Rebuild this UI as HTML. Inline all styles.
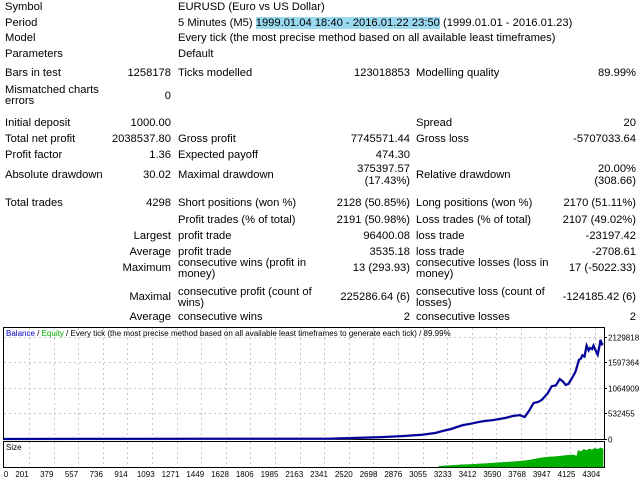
<!DOCTYPE html>
<html><head><meta charset="utf-8">
<style>
html,body{margin:0;padding:0;background:#fff;}
body{width:640px;height:480px;position:relative;overflow:hidden;font-family:"Liberation Sans","DejaVu Sans",sans-serif;font-size:11.2px;color:#000;}
.t{position:absolute;line-height:12px;white-space:nowrap;}
.r{text-align:right;}
.hl{background:#9ad9f0;}
svg{position:absolute;left:0;top:0;}
svg text{font-family:"Liberation Sans","DejaVu Sans",sans-serif;}
</style></head>
<body>
<div id="rep"></div>
<svg id="chart" width="640" height="480"></svg>
<script>
var L1=5, R1=171, L2=178, R2=410, L3=416, R3=636;
var cells=[
 [1,L1,'Symbol','l'],[1,L2,'EURUSD (Euro vs US Dollar)','l'],
 [17,L1,'Period','l'],
 [32,L1,'Model','l'],[32,L2,'Every tick (the most precise method based on all available least timeframes)','l'],
 [48,L1,'Parameters','l'],[48,L2,'Default','l'],
 [67,L1,'Bars in test','l'],[67,R1,'1258178','r'],[67,L2,'Ticks modelled','l'],[67,R2,'123018853','r'],[67,L3,'Modelling quality','l'],[67,R3,'89.99%','r'],
 [84,L1,'Mismatched charts','l'],[95,L1,'errors','l'],[90,R1,'0','r'],
 [117,L1,'Initial deposit','l'],[117,R1,'1000.00','r'],[117,L3,'Spread','l'],[117,R3,'20','r'],
 [133,L1,'Total net profit','l'],[133,R1,'2038537.80','r'],[133,L2,'Gross profit','l'],[133,R2,'7745571.44','r'],[133,L3,'Gross loss','l'],[133,R3,'-5707033.64','r'],
 [149,L1,'Profit factor','l'],[149,R1,'1.36','r'],[149,L2,'Expected payoff','l'],[149,R2,'474.30','r'],
 [169,L1,'Absolute drawdown','l'],[169,R1,'30.02','r'],[169,L2,'Maximal drawdown','l'],[163,R2,'375397.57','r'],[175,R2,'(17.43%)','r'],[169,L3,'Relative drawdown','l'],[163,R3,'20.00%','r'],[175,R3,'(308.66)','r'],
 [197,L1,'Total trades','l'],[197,R1,'4298','r'],[197,L2,'Short positions (won %)','l'],[197,R2,'2128 (50.85%)','r'],[197,L3,'Long positions (won %)','l'],[197,R3,'2170 (51.11%)','r'],
 [214,L2,'Profit trades (% of total)','l'],[214,R2,'2191 (50.98%)','r'],[214,L3,'Loss trades (% of total)','l'],[214,R3,'2107 (49.02%)','r'],
 [230,R1,'Largest','r'],[230,L2,'profit trade','l'],[230,R2,'96400.08','r'],[230,L3,'loss trade','l'],[230,R3,'-23197.42','r'],
 [246,R1,'Average','r'],[246,L2,'profit trade','l'],[246,R2,'3535.18','r'],[246,L3,'loss trade','l'],[246,R3,'-2708.61','r'],
 [262,R1,'Maximum','r'],[257,L2,'consecutive wins (profit in','l'],[268,L2,'money)','l'],[262,R2,'13 (293.93)','r'],[257,L3,'consecutive losses (loss in','l'],[268,L3,'money)','l'],[262,R3,'17 (-5022.33)','r'],
 [291,R1,'Maximal','r'],[286,L2,'consecutive profit (count of','l'],[297,L2,'wins)','l'],[291,R2,'225286.64 (6)','r'],[286,L3,'consecutive loss (count of','l'],[297,L3,'losses)','l'],[291,R3,'-124185.42 (6)','r'],
 [311,R1,'Average','r'],[311,L2,'consecutive wins','l'],[311,R2,'2','r'],[311,L3,'consecutive losses','l'],[311,R3,'2','r']
];
var rep=document.getElementById('rep');
cells.forEach(function(c){
  var d=document.createElement('div');
  
  
  d.className='t'+(c[3]=='r'?' r':'');
  d.style.top=c[0]+'px';
  if(c[3]=='r'){d.style.right=(640-c[1])+'px';}else{d.style.left=c[1]+'px';}
  d.textContent=c[2];
  rep.appendChild(d);
});
var p=document.createElement('div');


p.className='t';p.style.top='17px';p.style.left=L2+'px';
p.innerHTML='5 Minutes (M5) <span class="hl">1999.01.04 18:40 - 2016.01.22 23:50</span> (1999.01.01 - 2016.01.23)';
rep.appendChild(p);
</script>
<script>
var yTicks=[0,532455,1064909,1597364,2129818];
var xTickLabels=[0,201,379,557,736,914,1093,1271,1449,1628,1806,1985,2163,2341,2520,2698,2876,3055,3233,3412,3590,3768,3947,4125,4304];
var tradeIdx=[0,500,1000,1500,2000,2350,2500,2710,2855,3000,3094,3150,3209,3250,3296,3350,3400,3447,3500,3560,3600,3650,3700,3736,3770,3800,3830,3858,3900,3930,3960,3988,4010,4031,4050,4075,4100,4125,4140,4150,4165,4180,4195,4205,4220,4230,4245,4260,4270,4280,4290,4298];
var balance=[1000,1500,2500,4000,6000,9000,20000,40000,60000,90000,125000,170000,209000,250000,292000,320000,350000,376000,390000,420000,440000,480000,500000,460000,600000,752000,770000,814000,950000,1100000,1120000,1250000,1200000,1130000,1150000,1270000,1400000,1650000,1680000,1750000,1720000,1950000,1850000,1900000,1880000,1950000,1850000,1760000,1900000,2070000,1980000,2000000];
var sizeIdx=[3120,3160,3200,3240,3280,3320,3360,3400,3440,3480,3520,3560,3600,3640,3680,3720,3760,3800,3840,3880,3920,3960,4000,4040,4080,4110,4120,4140,4160,4180,4200,4220,4240,4260,4280,4298];
var sizeVal=[0.5,1,1.3,1.6,2,2.2,2.4,2.7,3,3.3,3.6,4,4.3,4.6,5,5.5,6,7,8,8.6,9.2,9.5,10,10.5,11,10,15,14,16,15,16.5,15.5,17,16,17.5,16.5];
var sizeMax=20;

var svg=document.getElementById('chart'),NS='http://www.w3.org/2000/svg';
function el(t,a,parent){var e=document.createElementNS(NS,t);for(var k in a)e.setAttribute(k,a[k]);(parent||svg).appendChild(e);return e;}
var X0=4,X1=603,TMAX=4298;
function xs(t){return X0+(t/TMAX)*(X1-X0);}
var Y0=439,YT=337;
function ys(v){return Y0-(v/2129818)*(Y0-YT);}
var SB=467,ST=443;
function ss(v){return SB-(v/sizeMax)*(SB-ST-2);}

var f=el('rect',{x:3.5,y:327.5,width:601,height:112,fill:'#fff',stroke:'#000'});

var f2=el('rect',{x:3.5,y:441.5,width:601,height:26,fill:'#fff',stroke:'#000'});


for(var i=1;i<xTickLabels.length;i++){
  var gx=Math.round(29+(i-1)*24.6)+0.5;
  if(gx>603)break;
  var g=el('line',{x1:gx,x2:gx,y1:328,y2:439,stroke:'#c8c8c8','stroke-dasharray':'2,3'});
  
  var g2=el('line',{x1:gx,x2:gx,y1:442,y2:467,stroke:'#c8c8c8','stroke-dasharray':'2,3'});
  
}
xTickLabels.forEach(function(l,i){
  var cx=i==0?6:22+(i-1)*24.75;
  var t=el('text',{x:cx,y:477,'font-size':8,'text-anchor':'middle',fill:'#000'});
  
  t.textContent=l;
});
yTicks.forEach(function(v){
  var y=Math.round(ys(v))+0.5;
  if(v>0){var g=el('line',{x1:4,x2:604,y1:y,y2:y,stroke:'#c8c8c8','stroke-dasharray':'2,3'});
  }
  var tk=el('line',{x1:604,x2:607,y1:y,y2:y,stroke:'#000'});
  
  var t=el('text',{x:608,y:y+3,'font-size':8,fill:'#000'});
  
  t.textContent=v;
});
var pts=tradeIdx.map(function(t,i){return xs(t).toFixed(1)+','+ys(balance[i]).toFixed(1);}).join(' ');
var eq=el('polyline',{points:pts,fill:'none',stroke:'#8a8aa0','stroke-width':2.5});

var bl=el('polyline',{points:pts,fill:'none',stroke:'#0000a0','stroke-width':2});

var d='M'+xs(sizeIdx[0]).toFixed(1)+','+SB;
sizeIdx.forEach(function(t,i){d+=' L'+xs(t).toFixed(1)+','+ss(sizeVal[i]).toFixed(1);});
d+=' L'+xs(sizeIdx[sizeIdx.length-1]).toFixed(1)+','+SB+' Z';
var sz=el('path',{d:d,fill:'#00b000',stroke:'#00a000','stroke-width':0.5});

var tt=el('text',{x:6,y:336,'font-size':8});

tt.innerHTML='<tspan fill="#0000c0">Balance</tspan><tspan fill="#000"> / </tspan><tspan fill="#00b000">Equity</tspan><tspan fill="#000"> / Every tick (the most precise method based on all available least timeframes to generate each tick) / 89.99%</tspan>';
var st=el('text',{x:6,y:450,'font-size':8,fill:'#000'});

st.textContent='Size';
</script>
</body></html>
